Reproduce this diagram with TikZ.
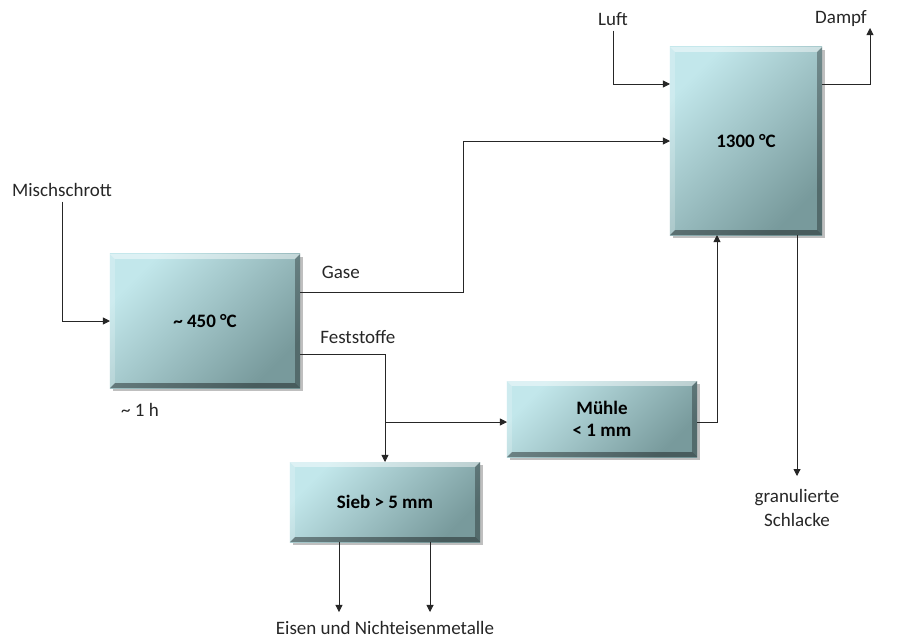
\documentclass[tikz,border=0pt]{standalone}
\usepackage{fontspec}
\setmainfont{Carlito}
\usetikzlibrary{arrows.meta,shadows}

\definecolor{boxhi}{HTML}{C2E7EB}
\definecolor{boxlo}{HTML}{789A9C}
\definecolor{linegray}{HTML}{262626}

\tikzset{
 bevel/.style={path picture={
  \path (path picture bounding box.north west) coordinate (bnw)
        (path picture bounding box.north east) coordinate (bne)
        (path picture bounding box.south west) coordinate (bsw)
        (path picture bounding box.south east) coordinate (bse);
  \fill[white,opacity=.45] (bnw) -- (bne) -- ([shift={(-3.5pt,-3.5pt)}]bne) -- ([shift={(3.5pt,-3.5pt)}]bnw) -- cycle;
  \fill[white,opacity=.2] (bnw) -- ([shift={(3.5pt,-3.5pt)}]bnw) -- ([shift={(3.5pt,3.5pt)}]bsw) -- (bsw) -- cycle;
  \fill[black,opacity=.3] (bne) -- (bse) -- ([shift={(-3.5pt,3.5pt)}]bse) -- ([shift={(-3.5pt,-3.5pt)}]bne) -- cycle;
  \fill[black,opacity=.4] (bsw) -- (bse) -- ([shift={(-3.5pt,3.5pt)}]bse) -- ([shift={(3.5pt,3.5pt)}]bsw) -- cycle;
 }}
}

\begin{document}
\begin{tikzpicture}[x=0.025cm,y=-0.025cm,>={Triangle[width=5pt,length=5pt]},
 every node/.style={font=\fontsize{13.5}{17}\selectfont,text=black!85},
 unit/.style={shade,top color=boxhi,bottom color=boxlo,shading angle=45,bevel,
   drop shadow={shadow xshift=2pt,shadow yshift=-2pt,fill=black,opacity=.25},
   inner sep=0pt,outer sep=0pt,align=center,text=black,
   font=\fontsize{13.5}{16}\selectfont\bfseries},
 flow/.style={->,draw=linegray,line width=0.6pt}]
\useasboundingbox (0,0) rectangle (898,641);

% Anlagenteile
\node[unit,minimum width=4.75cm,minimum height=3.35cm] (ofen) at (205,321) {\textasciitilde{} 450 °C};
\node[unit,minimum width=3.8cm,minimum height=4.7cm] (reaktor) at (746,141) {1300 °C};
\node[unit,minimum width=4.75cm,minimum height=1.9cm] (muehle) at (602,419) {Mühle\\< 1 mm};
\node[unit,minimum width=4.75cm,minimum height=2cm] (sieb) at (385,502) {Sieb > 5 mm};

% Stoffe
\node (misch) at (62,190) {Mischschrott};
\node (luft) at (613,19) {Luft};
\node (dampf) at (841,19) {Dampf};
\node (dauer) at (140,410) {\textasciitilde{} 1 h};
\node[align=center,anchor=north] (schlacke) at (797,484) {granulierte\\Schlacke};
\node (metalle) at (385,628) {Eisen und Nichteisenmetalle};
\coordinate (dampfend) at (870,28);
\coordinate (split) at (385,422);

% Ströme
\draw[flow] (misch.south) |- (ofen.west);
\draw[flow] ([yshift=0.725cm]ofen.east) -- node[pos=.25,above=6pt] {Gase} ++(163,0) |- (reaktor.west);
\draw[flow] ([yshift=-0.825cm]ofen.east) -| node[pos=.34,above=3.5pt] {Feststoffe} (sieb.north);
\draw[flow] (split) -- (split -| muehle.west);
\draw[flow] (muehle.east |- split) -| ([xshift=-0.725cm]reaktor.south);
\draw[flow] (luft.south) |- ([yshift=1.425cm]reaktor.west);
\draw[flow] ([yshift=1.425cm]reaktor.east) -| (dampfend);
\draw[flow] ([xshift=1.275cm]reaktor.south) -- ++(0,241);
\draw[flow] ([xshift=-1.15cm]sieb.south) -- ++(0,70);
\draw[flow] ([xshift=1.125cm]sieb.south) -- ++(0,70);
\end{tikzpicture}
\end{document}
